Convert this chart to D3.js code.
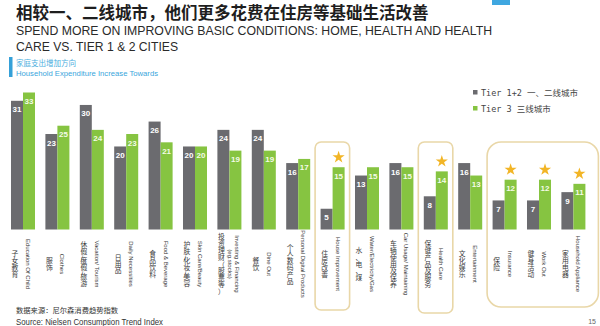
<!DOCTYPE html>
<html><head><meta charset="utf-8">
<script src="https://cdn.jsdelivr.net/npm/d3@7/dist/d3.min.js"></script>
<style>
body{margin:0;background:#fff;}
svg{display:block;font-family:"Liberation Sans",Arial,sans-serif;}
</style>
</head><body>
<svg id="chart" width="600" height="326"></svg>
<script>
// ---- data ----
const categoriesEn = ["Education Of Child","Clothes","Vacation/ Tourism","Daily Necessities","Food & Beverage","Skin Care/Beauty","Investing & Financing|(eg.stocks)","Dine Out","Personal Digital Products","House Improvement","Water/Electricity/Gas","Car Usage/ Maintaining","Health Care","Entertainment","Insurance","Work Out","Household Appliance"];
const categoriesZh = ["子女教育","服饰","休假/度假/旅游","日用品","食品饮料","护肤/化妆/美容","投资理财（股票等）","餐饮","个人数码产品","住房改善","水、电、煤","车辆使用及保养","保健产品及服务","文化娱乐","保险","健身活动","家用电器"];
const tier12 = [31,23,30,20,26,20,24,24,16,5,13,16,8,16,7,7,9];
const tier3  = [33,25,24,23,21,20,19,19,17,15,15,15,14,13,12,12,11];
const seriesNames = ["Tier 1+2 一、二线城市","Tier 3 三线城市"];
const starred = [9,12,14,15,16];
const boxGroups = [[9,9],[12,12],[14,16]];

const svg = d3.select("#chart");
const GREY = "#6b6b6f", GREEN = "#86c441", BOX = "#e9d7a8", BLUE = "#35a0d8";

// ---- scales ----
const x = d3.scaleBand().domain(d3.range(categoriesEn.length)).range([5.8, 590.6]).paddingInner(0.302).paddingOuter(0.151);
const y = d3.scaleLinear().domain([0, 33]).range([229.5, 92.5]);
const bw = x.bandwidth()/2;

// ---- header ----
svg.append("rect").attr("x",492).attr("y",0).attr("width",18).attr("height",5).attr("fill","#3fa7e0");
svg.append("text").attr("x",16).attr("y",19).attr("font-family","'Noto Sans CJK SC'").attr("font-weight","bold")
  .attr("font-size",16.5).attr("fill","#1e1e1e").text("相较一、二线城市，他们更多花费在住房等基础生活改善");
svg.append("text").attr("x",16).attr("y",35).attr("font-size",13.5).attr("fill","#2a2a2a")
  .attr("textLength",476).attr("lengthAdjust","spacingAndGlyphs")
  .text("SPEND MORE ON IMPROVING BASIC CONDITIONS: HOME, HEALTH AND HEALTH");
svg.append("text").attr("x",16).attr("y",51).attr("font-size",13.5).attr("fill","#2a2a2a")
  .attr("textLength",162).attr("lengthAdjust","spacingAndGlyphs")
  .text("CARE VS. TIER 1 & 2 CITIES");
svg.append("rect").attr("x",9).attr("y",57).attr("width",3.5).attr("height",20).attr("fill",BLUE);
svg.append("text").attr("x",16).attr("y",66).attr("font-family","'Noto Sans CJK SC'").attr("font-size",7.5)
  .attr("fill","#4aaede").text("家庭支出增加方向");
svg.append("text").attr("x",16).attr("y",76).attr("font-size",7.8).attr("fill","#3aa6dc")
  .attr("textLength",142).attr("lengthAdjust","spacingAndGlyphs").text("Household Expenditure Increase Towards");

// ---- highlight boxes ----
boxGroups.forEach(([a,b]) => {
  const x0 = x(a) - 5.5, x1 = x(b) + x.bandwidth() + (a===b ? 5 : 13);
  const bottom = a===b ? (a===9 ? 310 : 313) : 307;
  svg.append("rect").attr("x",x0).attr("y",142).attr("width",x1-x0).attr("height",bottom-142)
    .attr("rx",a===b?6:14).attr("fill","none").attr("stroke",BOX).attr("stroke-width",1.6);
});

// ---- bars ----
const g = svg.append("g");
const series = [{vals:tier12, color:GREY, off:0, lab:"#ffffff"},{vals:tier3, color:GREEN, off:bw, lab:"#f4fbe8"}];
series.forEach(s => {
  g.selectAll(null).data(s.vals).enter().append("rect")
    .attr("x",(d,i)=>x(i)+s.off).attr("y",d=>y(d)).attr("width",bw).attr("height",d=>y(0)-y(d)).attr("fill",s.color);
  g.selectAll(null).data(s.vals).enter().append("text")
    .attr("x",(d,i)=>x(i)+s.off+bw/2).attr("y",d=>y(d)+11.5).attr("text-anchor","middle")
    .attr("font-size",8).attr("font-weight","bold").attr("fill",s.lab).text(d=>d);
});

// ---- stars ----
const star = d3.symbol().type(d3.symbolStar).size(46);
starred.forEach(i => {
  svg.append("path").attr("d",star()).attr("fill","#f2b526")
    .attr("transform",`translate(${x(i)+bw*1.5},${y(tier3[i])-10})`);
});

// ---- category labels ----
const LY = 264, ZF = 6.8;
categoriesEn.forEach((lab,i) => {
  const cx = x(i) + x.bandwidth()/2;
  const lines = lab.split("|");
  lines.forEach((ln,k) => {
    const lx = lines.length>1 ? cx + 8 - k*7 : cx + 5;
    svg.append("text").attr("transform",`translate(${lx},${LY}) rotate(90)`)
      .attr("text-anchor","middle").attr("dominant-baseline","central")
      .attr("font-size",6).attr("fill","#3a3a3a").text(ln);
  });
  // Chinese: one text element running downward, each glyph turned upright
  const chars = Array.from(categoriesZh[i]);
  svg.append("text")
    .attr("transform",`translate(${cx - 8 - ZF/2},${LY + 0.88*ZF}) rotate(90)`)
    .attr("rotate", chars.map(()=>-90).join(" "))
    .attr("text-anchor","middle")
    .attr("font-family","'Noto Sans CJK SC'").attr("font-size",ZF).attr("fill","#3a3a3a")
    .text(categoriesZh[i]);
});

// ---- legend ----
seriesNames.forEach((n,i) => {
  svg.append("rect").attr("x",473).attr("y",90+i*16).attr("width",4.5).attr("height",4.5).attr("fill",i?GREEN:GREY);
  svg.append("text").attr("x",481).attr("y",92.5+i*16).attr("dominant-baseline","central")
    .attr("font-family","'DejaVu Sans Mono','Noto Sans CJK SC'").attr("font-size",8.5).attr("fill","#444").text(n);
});

// ---- footer ----
svg.append("text").attr("x",16).attr("y",313).attr("font-family","'Noto Sans CJK SC'").attr("font-size",7.3)
  .attr("fill","#333").text("数据来源：尼尔森消费趋势指数");
svg.append("text").attr("x",16).attr("y",325).attr("font-size",8.2).attr("fill","#333")
  .attr("textLength",147).attr("lengthAdjust","spacingAndGlyphs").text("Source: Nielsen Consumption Trend Index");
svg.append("text").attr("x",596).attr("y",324).attr("text-anchor","end").attr("font-size",7).attr("fill","#666").text("15");
</script>
</body></html>
